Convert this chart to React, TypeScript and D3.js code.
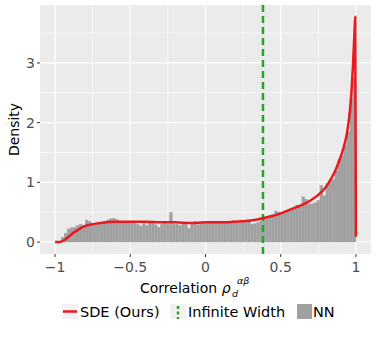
import React from "react";
import * as d3 from "d3";

// histogram of NN correlations, bins of 0.02 starting at -0.96
const binStart = -0.96;
const binWidth = 0.02;
const nnDensity = [
  0.08, 0.15, 0.22, 0.24, 0.25, 0.28, 0.30, 0.28, 0.37, 0.35,
  0.30, 0.31, 0.32, 0.33, 0.35, 0.37, 0.39, 0.40, 0.38, 0.34,
  0.34, 0.33, 0.35, 0.34, 0.32, 0.30, 0.27, 0.31, 0.28, 0.33,
  0.32, 0.29, 0.25, 0.30, 0.33, 0.30, 0.50, 0.30, 0.30, 0.28,
  0.32, 0.30, 0.23, 0.31, 0.34, 0.29, 0.32, 0.33, 0.34, 0.33,
  0.33, 0.34, 0.33, 0.32, 0.35, 0.34, 0.33, 0.36, 0.34, 0.33,
  0.34, 0.36, 0.35, 0.30, 0.31, 0.33, 0.36, 0.38, 0.40, 0.43,
  0.46, 0.52, 0.50, 0.48, 0.50, 0.52, 0.56, 0.58, 0.62, 0.60,
  0.76, 0.72, 0.64, 0.64, 0.66, 0.70, 0.95, 0.78, 0.98, 1.02,
  1.05, 1.20, 1.38, 1.45, 1.62, 1.85, 2.40, 2.75,
];

// SDE density curve
const sdeX = [
  -1, -0.97, -0.94, -0.91, -0.88, -0.85, -0.81, -0.75, -0.7,
  -0.6, -0.5, -0.4, -0.3, -0.2, -0.1, 0,
  0.1, 0.2, 0.3, 0.38, 0.45, 0.5,
  0.55, 0.6, 0.65, 0.7, 0.75, 0.8,
  0.83, 0.86, 0.89, 0.92, 0.94, 0.96,
  0.97, 0.98, 0.99, 0.995, 1.0,
];
const sdeY = [
  0, 0, 0.03, 0.09, 0.15, 0.2, 0.26, 0.3, 0.32,
  0.34, 0.34, 0.34, 0.33, 0.33, 0.32, 0.33,
  0.33, 0.34, 0.36, 0.4, 0.44, 0.48,
  0.53, 0.58, 0.63, 0.7, 0.79, 0.92,
  1.04, 1.18, 1.37, 1.6, 1.82, 2.2,
  2.5, 2.95, 3.5, 3.77, 0.09,
];

const infiniteWidth = 0.382;

const xTicks = [-1, -0.5, 0, 0.5, 1];
const xMinor = [-0.75, -0.25, 0.25, 0.75];
const yTicks = [0, 1, 2, 3];
const yMinor = [0.5, 1.5, 2.5, 3.5];

const font = "'DejaVu Sans', sans-serif";

export default function App() {
  const width = 378;
  const height = 338;
  const panel = { left: 40, right: 371, top: 5, bottom: 254 };

  const x = d3.scaleLinear().domain([-1.1, 1.1]).range([panel.left, panel.right]);
  const y = d3.scaleLinear().domain([-0.2, 3.97]).range([panel.bottom, panel.top]);

  const fmt = (v: number) => (v < 0 ? "\u2212" + Math.abs(v) : String(v));

  const line = d3
    .line<number>()
    .x((_, i) => x(sdeX[i]))
    .y((d) => y(d))
    .curve(d3.curveMonotoneX);

  const bars = nnDensity.map((d, i) => {
    const x0 = binStart + i * binWidth;
    return (
      <rect
        key={i}
        x={x(x0)}
        y={y(d)}
        width={x(x0 + binWidth) - x(x0)}
        height={y(0) - y(d)}
        fill="#a0a0a0"
        stroke="#a9a9a9"
        strokeWidth={0.25}
      />
    );
  });

  return (
    <svg
      width={width}
      height={height}
      style={{ position: "absolute", left: 0, top: 0, background: "#fff" }}
      fontFamily={font}
    >
      <rect
        x={panel.left}
        y={panel.top}
        width={panel.right - panel.left}
        height={panel.bottom - panel.top}
        fill="#ebebeb"
      />
      {xMinor.map((t) => (
        <line key={"xm" + t} x1={x(t)} x2={x(t)} y1={panel.top} y2={panel.bottom} stroke="#fff" strokeWidth={0.6} />
      ))}
      {yMinor.map((t) => (
        <line key={"ym" + t} x1={panel.left} x2={panel.right} y1={y(t)} y2={y(t)} stroke="#fff" strokeWidth={0.6} />
      ))}
      {xTicks.map((t) => (
        <line key={"xg" + t} x1={x(t)} x2={x(t)} y1={panel.top} y2={panel.bottom} stroke="#fff" strokeWidth={1.2} />
      ))}
      {yTicks.map((t) => (
        <line key={"yg" + t} x1={panel.left} x2={panel.right} y1={y(t)} y2={y(t)} stroke="#fff" strokeWidth={1.2} />
      ))}

      {bars}

      <line
        x1={x(infiniteWidth)}
        x2={x(infiniteWidth)}
        y1={panel.top}
        y2={panel.bottom}
        stroke="#2ca02c"
        strokeWidth={2.5}
        strokeDasharray="7,4"
      />

      <path d={line(sdeY) || ""} fill="none" stroke="#e8191f" strokeWidth={2.5} />

      {/* axes ticks */}
      {xTicks.map((t) => (
        <g key={"xt" + t}>
          <line x1={x(t)} x2={x(t)} y1={panel.bottom} y2={panel.bottom + 3} stroke="#333" strokeWidth={1} />
          <text x={x(t)} y={272} textAnchor="middle" fontSize={14} fill="#4d4d4d">
            {fmt(t)}
          </text>
        </g>
      ))}
      {yTicks.map((t) => (
        <g key={"yt" + t}>
          <line x1={panel.left - 3} x2={panel.left} y1={y(t)} y2={y(t)} stroke="#333" strokeWidth={1} />
          <text x={panel.left - 5} y={y(t)} dy="0.36em" textAnchor="end" fontSize={14} fill="#4d4d4d">
            {t}
          </text>
        </g>
      ))}

      <text
        transform={`translate(19,${(panel.top + panel.bottom) / 2}) rotate(-90)`}
        textAnchor="middle"
        fontSize={14}
        fill="#000"
      >
        Density
      </text>

      <text x={140} y={293} fontSize={14} fill="#000">
        Correlation <tspan fontStyle="italic">ρ</tspan>
      </text>
      <text x={232} y={297} fontSize={9.5} fontStyle="italic" fill="#000">
        d
      </text>
      <text x={237} y={284} fontSize={9.5} fontStyle="italic" fill="#000">
        αβ
      </text>

      {/* legend */}
      <g>
        <rect x={62} y={304} width={16} height={15} fill="#f2f2f2" />
        <line x1={63} x2={77} y1={311.5} y2={311.5} stroke="#e8191f" strokeWidth={2.5} />
        <text x={80} y={316.5} fontSize={14.5} fill="#000">
          SDE (Ours)
        </text>
        <rect x={170} y={304} width={16} height={15} fill="#f2f2f2" />
        <line x1={178} x2={178} y1={304} y2={319} stroke="#2ca02c" strokeWidth={2.5} strokeDasharray="3,2.5" strokeDashoffset={-2} />
        <text x={188} y={316.5} fontSize={14.5} fill="#000">
          Infinite Width
        </text>
        <rect x={297} y={304} width={15} height={15} fill="#a0a0a0" />
        <text x={313} y={316.5} fontSize={14.5} fill="#000">
          NN
        </text>
      </g>
    </svg>
  );
}
